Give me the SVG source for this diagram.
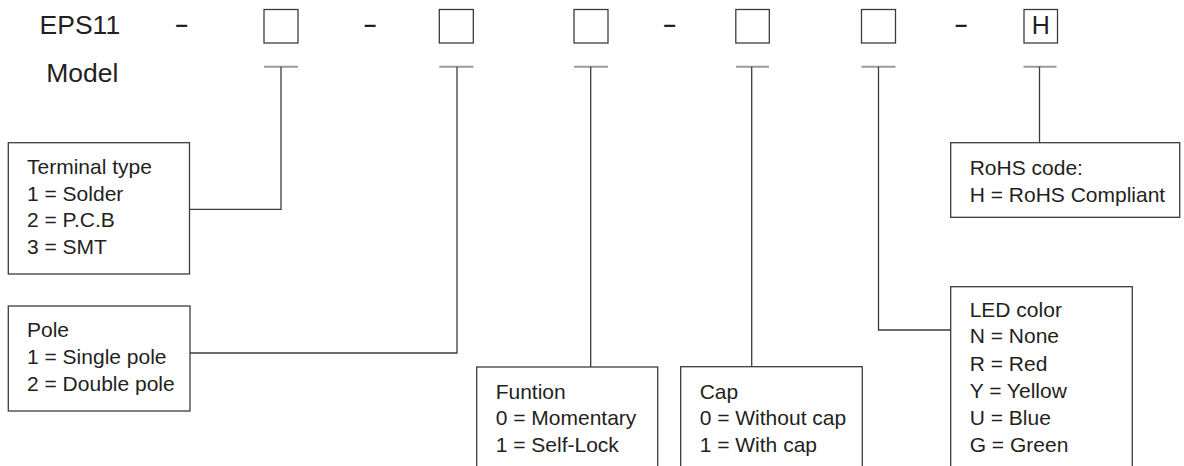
<svg xmlns="http://www.w3.org/2000/svg" width="1184" height="466" viewBox="0 0 1184 466">
<style>
  text { font-family: "Liberation Sans", Arial, sans-serif; fill: #231f20; }
  .big { font-size: 26.5px; }
  .lbl { font-size: 21px; }
  .dash { font-size: 22px; font-weight: bold; }
  .box { fill: #ffffff; stroke: #3c3c3c; stroke-width: 1.3; }
  .bar { stroke: #9a9a9a; stroke-width: 2; fill: none; }
  .wire { stroke: #3c3c3c; stroke-width: 1.3; fill: none; }
</style>
<rect x="0" y="0" width="1184" height="466" fill="#ffffff"/>

<g id="model">
  <text class="big" x="39.6" y="34">EPS11</text>
  <text class="big" x="46.3" y="82">Model</text>
  <text class="dash" x="175.5" y="32">–</text>
  <text class="dash" x="364" y="32">–</text>
  <text class="dash" x="663.5" y="32">–</text>
  <text class="dash" x="955" y="32">–</text>
</g>

<g id="slot1"><rect class="box" x="264" y="9.5" width="34" height="33.5"/></g>
<g id="slot2"><rect class="box" x="439.3" y="9.5" width="34" height="33.5"/></g>
<g id="slot3"><rect class="box" x="574" y="9.5" width="34" height="33.5"/></g>
<g id="slot4"><rect class="box" x="735.8" y="9.5" width="33.5" height="33.5"/></g>
<g id="slot5"><rect class="box" x="861.5" y="9.5" width="34" height="33.5"/></g>
<g id="slot6"><rect class="box" x="1024" y="9.5" width="33.5" height="33.5"/>
  <text x="1040.8" y="34" text-anchor="middle" style="font-size:25px">H</text></g>

<g id="connectors">
  <path class="bar" d="M264,66.7 H298 M439.3,66.7 H473.3 M574,66.7 H608 M736,66.7 H769 M861.5,66.7 H895.5 M1023.5,66.7 H1056.5"/>
  <path class="wire" d="M281,66.7 V209.3 H189.5"/>
  <path class="wire" d="M457,66.7 V353 H190"/>
  <path class="wire" d="M590.7,66.7 V367"/>
  <path class="wire" d="M751.7,66.7 V366.7"/>
  <path class="wire" d="M878.5,66.7 V330 H950.7"/>
  <path class="wire" d="M1039.5,66.7 V142.7"/>
</g>

<g id="terminal">
  <rect class="box" x="8.3" y="142.7" width="181.2" height="131.3"/>
  <text class="lbl" x="27" y="174">Terminal type</text>
  <text class="lbl" x="27" y="200.5">1 = Solder</text>
  <text class="lbl" x="27" y="227">2 = P.C.B</text>
  <text class="lbl" x="27" y="253.5">3 = SMT</text>
</g>

<g id="pole">
  <rect class="box" x="8.3" y="306" width="181.7" height="105"/>
  <text class="lbl" x="27" y="336.7">Pole</text>
  <text class="lbl" x="27" y="364">1 = Single pole</text>
  <text class="lbl" x="27" y="390.7">2 = Double pole</text>
</g>

<g id="function">
  <rect class="box" x="476.7" y="367" width="181" height="120"/>
  <text class="lbl" x="495.7" y="398.5">Funtion</text>
  <text class="lbl" x="495.7" y="425">0 = Momentary</text>
  <text class="lbl" x="495.7" y="451.5">1 = Self-Lock</text>
</g>

<g id="cap">
  <rect class="box" x="680.7" y="366.7" width="181.6" height="120"/>
  <text class="lbl" x="699.7" y="398.5">Cap</text>
  <text class="lbl" x="699.7" y="425">0 = Without cap</text>
  <text class="lbl" x="699.7" y="451.5">1 = With cap</text>
</g>

<g id="led">
  <rect class="box" x="950.7" y="286.7" width="181.6" height="200"/>
  <text class="lbl" x="969.7" y="316.7">LED color</text>
  <text class="lbl" x="969.7" y="343.3">N = None</text>
  <text class="lbl" x="969.7" y="370.5">R = Red</text>
  <text class="lbl" x="969.7" y="398">Y = Yellow</text>
  <text class="lbl" x="969.7" y="425">U = Blue</text>
  <text class="lbl" x="969.7" y="451.7">G = Green</text>
</g>

<g id="rohs">
  <rect class="box" x="950.7" y="142.7" width="229" height="74.6"/>
  <text class="lbl" x="969.7" y="175">RoHS code:</text>
  <text class="lbl" x="969.7" y="201.7">H = RoHS Compliant</text>
</g>
</svg>
